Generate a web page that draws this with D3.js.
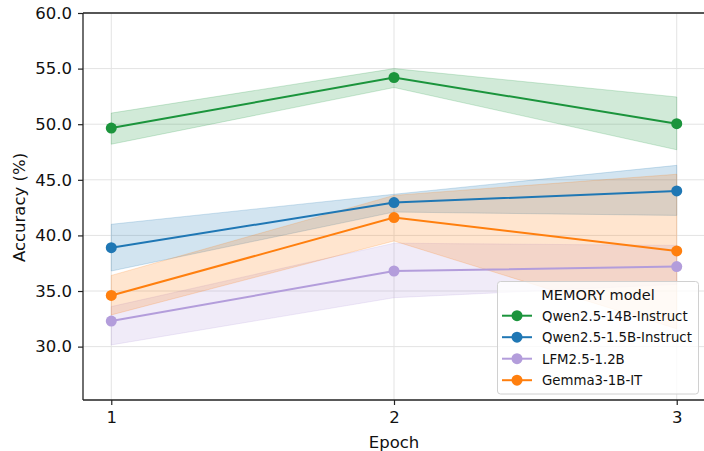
<!DOCTYPE html>
<html>
<head>
<meta charset="utf-8">
<script src="https://cdn.jsdelivr.net/npm/d3@7"></script>
<style>
  body { margin: 0; background: #fff; }
  svg { font-family: "DejaVu Sans", sans-serif; }
</style>
</head>
<body>
<script>
// epochs and tick labels
var epocas = [1, 2, 3];
var ticksY = [30, 35, 40, 45, 50, 55, 60];

// series: mean, lower and upper bound of the band
var qwen14 = [49.65, 54.2, 50.05];
var qwen14Bajo = [48.2, 53.3, 47.7];
var qwen14Alto = [51.0, 55.0, 52.45];

var qwen15 = [38.9, 42.95, 44.0];
var qwen15Bajo = [36.8, 42.1, 41.8];
var qwen15Alto = [41.0, 43.7, 46.3];

var lfm = [32.3, 36.8, 37.2];
var lfmBajo = [30.15, 34.4, 35.6];
var lfmAlto = [33.6, 39.3, 39.1];

var gemma = [34.6, 41.6, 38.6];
var gemmaBajo = [32.85, 39.5, 31.6];
var gemmaAlto = [36.4, 43.6, 45.5];

var nombres = ["Qwen2.5-14B-Instruct", "Qwen2.5-1.5B-Instruct", "LFM2.5-1.2B", "Gemma3-1B-IT"];
var colores = ["#1b943c", "#1f77b4", "#b39ddb", "#ff7f0e"];

var series = [
    {nombre: nombres[0], color: colores[0], v: qwen14, lo: qwen14Bajo, hi: qwen14Alto},
    {nombre: nombres[1], color: colores[1], v: qwen15, lo: qwen15Bajo, hi: qwen15Alto},
    {nombre: nombres[2], color: colores[2], v: lfm, lo: lfmBajo, hi: lfmAlto},
    {nombre: nombres[3], color: colores[3], v: gemma, lo: gemmaBajo, hi: gemmaAlto}
];

var w = 704;
var h = 451;
var izq = 83, arriba = 13, abajo = 400, der = 705;

var svg = d3.select('body')
    .append('svg')
    .attr('width', w)
    .attr('height', h);

var x = d3.scaleLinear().domain([0.9, 3.1]).range([izq, der]);
var y = d3.scaleLinear().domain([25.2, 60]).range([abajo, arriba]);

// grid
svg.append('g').selectAll('line')
    .data(ticksY)
    .enter()
    .append('line')
    .attr('x1', izq).attr('x2', der)
    .attr('y1', function(d){ return y(d) })
    .attr('y2', function(d){ return y(d) })
    .attr('stroke', '#e3e3e3').attr('stroke-width', 1);

svg.append('g').selectAll('line')
    .data(epocas)
    .enter()
    .append('line')
    .attr('y1', arriba).attr('y2', abajo)
    .attr('x1', function(d){ return x(d) })
    .attr('x2', function(d){ return x(d) })
    .attr('stroke', '#e3e3e3').attr('stroke-width', 1);

// bands
var area = d3.area()
    .x(function(d, i){ return x(epocas[i]) })
    .y0(function(d){ return y(d[0]) })
    .y1(function(d){ return y(d[1]) });

series.forEach(function(s){
    var datos = s.lo.map(function(d, i){ return [d, s.hi[i]] });
    svg.append('path')
        .attr('d', area(datos))
        .attr('fill', s.color)
        .attr('fill-opacity', 0.2)
        .attr('stroke', s.color)
        .attr('stroke-opacity', 0.2)
        .attr('stroke-width', 1);
});

// lines and points
var linea = d3.line()
    .x(function(d, i){ return x(epocas[i]) })
    .y(function(d){ return y(d) });

series.forEach(function(s){
    svg.append('path')
        .attr('d', linea(s.v))
        .attr('fill', 'none')
        .attr('stroke', s.color)
        .attr('stroke-width', 2);
    svg.append('g').selectAll('circle')
        .data(s.v)
        .enter()
        .append('circle')
        .attr('cx', function(d, i){ return x(epocas[i]) })
        .attr('cy', function(d){ return y(d) })
        .attr('r', 5.5)
        .attr('fill', s.color);
});

// axes
var ejeX = svg.append('g')
    .attr('transform', 'translate(0,' + abajo + ')')
    .call(d3.axisBottom(x).tickValues(epocas).tickFormat(d3.format('d')).tickSize(5).tickPadding(6));
var ejeY = svg.append('g')
    .attr('transform', 'translate(' + izq + ',0)')
    .call(d3.axisLeft(y).tickValues(ticksY).tickFormat(d3.format('.1f')).tickSize(5).tickPadding(6));

[ejeX, ejeY].forEach(function(e){
    e.selectAll('text').attr('font-size', 16.5).attr('fill', '#111').attr('font-family', '"DejaVu Sans", sans-serif');
    e.selectAll('line').attr('stroke', '#222').attr('stroke-width', 1.2);
    e.select('.domain').remove();
});

// spines
svg.append('line').attr('x1', izq).attr('x2', izq).attr('y1', arriba).attr('y2', abajo)
    .attr('stroke', '#222').attr('stroke-width', 1.3);
svg.append('line').attr('x1', izq).attr('x2', der).attr('y1', abajo).attr('y2', abajo)
    .attr('stroke', '#222').attr('stroke-width', 1.3);
svg.append('line').attr('x1', izq).attr('x2', der).attr('y1', arriba).attr('y2', arriba)
    .attr('stroke', '#222').attr('stroke-width', 1.3);

// axis labels
svg.append('text')
    .text('Epoch')
    .attr('x', x(2)).attr('y', 447.5)
    .attr('text-anchor', 'middle')
    .attr('font-size', 16.5).attr('fill', '#111');

svg.append('text')
    .text('Accuracy (%)')
    .attr('transform', 'translate(25,' + ((arriba + abajo) / 2 + 1) + ') rotate(-90)')
    .attr('text-anchor', 'middle')
    .attr('font-size', 16.5).attr('fill', '#111');

// legend
var ley = svg.append('g');
ley.append('rect')
    .attr('x', 497.5).attr('y', 281.5)
    .attr('width', 201).attr('height', 112.5)
    .attr('rx', 3)
    .attr('fill', 'white').attr('fill-opacity', 0.8)
    .attr('stroke', '#d0d0d0');
ley.append('text')
    .text('MEMORY model')
    .attr('x', 598).attr('y', 299.5)
    .attr('text-anchor', 'middle')
    .attr('font-size', 14.5).attr('fill', '#111');

var filas = ley.selectAll('g.fila')
    .data(series)
    .enter()
    .append('g')
    .attr('class', 'fila')
    .attr('transform', function(d, i){ return 'translate(0,' + (315.7 + i * 21.5) + ')' });
filas.append('line')
    .attr('x1', 502).attr('x2', 532)
    .attr('stroke', function(d){ return d.color })
    .attr('stroke-width', 2);
filas.append('circle')
    .attr('cx', 517).attr('r', 5.5)
    .attr('fill', function(d){ return d.color });
filas.append('text')
    .text(function(d){ return d.nombre })
    .attr('x', 542).attr('y', 4.8)
    .attr('font-size', 13.3).attr('fill', '#111');
</script>
</body>
</html>
